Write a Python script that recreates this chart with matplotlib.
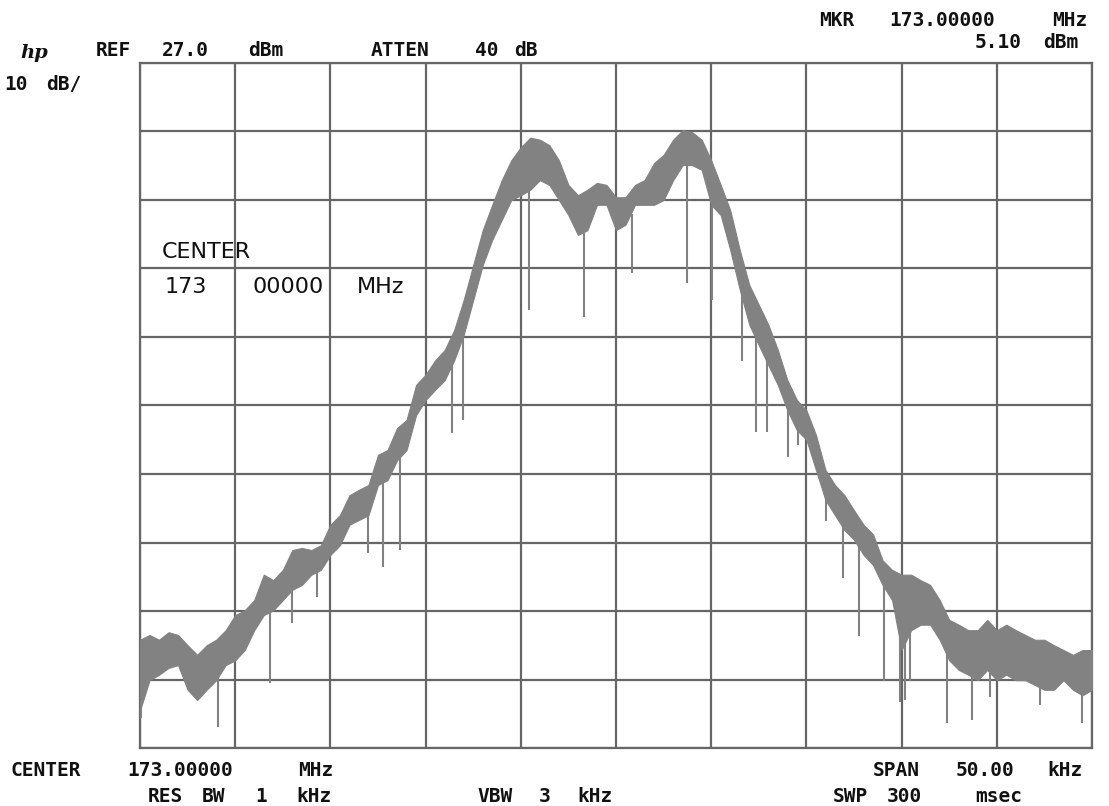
import matplotlib
matplotlib.use("Agg")
import matplotlib.pyplot as plt
import numpy as np

# ---- data ----
ref_level = 27.0      # dBm, top graticule line
db_per_div = 10.0
span_khz = 50.0

freq_khz = [-25.0, -24.5, -24.0, -23.5, -23.0, -22.5, -22.0, -21.5, -21.0, -20.5,
            -20.0, -19.5, -19.0, -18.5, -18.0, -17.5, -17.0, -16.5, -16.0, -15.5,
            -15.0, -14.5, -14.0, -13.5, -13.0, -12.5, -12.0, -11.5, -11.0, -10.5,
            -10.0, -9.5, -9.0, -8.5, -8.0, -7.5, -7.0, -6.5, -6.0, -5.5,
            -5.0, -4.5, -4.0, -3.5, -3.0, -2.5, -2.0, -1.5, -1.0, -0.5,
            0.0, 0.5, 1.0, 1.5, 2.0, 2.5, 3.0, 3.5, 4.0, 4.5,
            5.0, 5.5, 6.0, 6.5, 7.0, 7.5, 8.0, 8.5, 9.0, 9.5,
            10.0, 10.5, 11.0, 11.5, 12.0, 12.5, 13.0, 13.5, 14.0, 14.5,
            15.0, 15.5, 16.0, 16.5, 17.0, 17.5, 18.0, 18.5, 19.0, 19.5,
            20.0, 20.5, 21.0, 21.5, 22.0, 22.5, 23.0, 23.5, 24.0, 24.5, 25.0]

trace_hi = [-57.2, -56.5, -57.2, -56.1, -56.5, -58.0, -59.4, -58.0, -57.2, -55.8,
            -53.6, -52.9, -51.4, -47.7, -48.5, -47.0, -44.1, -43.8, -44.1, -43.4,
            -40.4, -39.0, -36.1, -35.3, -34.6, -30.2, -29.5, -26.3, -25.1, -20.0,
            -18.5, -16.4, -14.9, -12.0, -7.6, -2.5, 2.6, 6.3, 9.9, 12.8,
            14.7, 16.1, 15.8, 15.0, 12.8, 9.2, 7.7, 8.5, 9.5, 9.2,
            7.4, 7.4, 9.2, 9.9, 12.4, 13.6, 15.8, 17.2, 16.9, 15.8,
            12.8, 9.2, 5.5, -0.3, -5.4, -8.3, -11.2, -14.9, -19.3, -22.2,
            -23.7, -27.3, -32.4, -34.6, -36.1, -38.3, -40.4, -41.8, -45.6, -47.0,
            -47.7, -47.7, -48.5, -49.2, -51.4, -54.3, -55.0, -55.8, -55.8, -54.3,
            -55.8, -55.0, -55.8, -56.5, -57.2, -57.2, -58.0, -58.7, -59.4, -58.7, -58.7]

trace_lo = [-67.5, -63.1, -62.3, -61.3, -60.9, -64.5, -66.0, -64.5, -63.1, -60.9,
            -60.2, -58.7, -55.8, -53.6, -52.9, -51.4, -49.9, -49.2, -47.7, -47.0,
            -44.8, -43.4, -40.4, -39.7, -39.0, -34.6, -33.9, -31.0, -29.5, -24.4,
            -22.2, -20.7, -19.3, -16.4, -12.7, -7.6, -2.5, 1.2, 4.1, 7.0,
            7.7, 8.5, 9.9, 9.2, 7.0, 4.8, 1.9, 2.6, 6.3, 6.3,
            2.6, 3.4, 6.3, 6.3, 6.3, 7.0, 9.9, 12.1, 12.1, 11.4,
            6.3, 4.8, -0.3, -6.1, -11.2, -14.2, -17.1, -20.0, -23.7, -26.6,
            -28.0, -32.4, -36.8, -39.0, -41.2, -42.6, -44.8, -46.3, -49.2, -51.4,
            -58.7, -55.8, -55.0, -55.0, -57.2, -60.2, -61.6, -62.3, -63.1, -61.6,
            -63.1, -62.3, -63.1, -63.1, -63.8, -64.5, -64.5, -63.1, -64.5, -65.3, -64.5]

spike_khz = [-24.95, -20.9, -18.17, -17.02, -15.7, -13.03, -12.24, -11.34, -8.61, -8.04,
             -4.57, -1.68, 0.84, 3.73, 5.04, 6.62, 7.35, 7.93, 9.03, 9.56,
             11.03, 11.92, 12.76, 14.08, 14.92, 15.18, 15.44, 17.38, 18.7, 19.64,
             22.27, 24.47]
spike_top = [-60, -62, -52, -47, -46, -37, -32, -29, -15, -11,
             10, 3, 5, 13, 8, -3, -12, -14, -21, -24,
             -34, -38, -42, -47, -50, -50, -50, -58, -60, -58,
             -60, -62]
spike_bottom = [-68.6, -69.9, -63.5, -54.8, -51.0, -44.5, -46.6, -44.1, -27.0, -25.1,
                -9.1, -10.1, -3.7, -5.1, -7.6, -16.5, -26.9, -26.9, -30.5, -28.8,
                -39.9, -48.2, -56.7, -63.2, -66.3, -66.0, -63.2, -69.4, -68.9, -65.6,
                -66.7, -69.4]

# ---- figure ----
W, H = 1109, 806
fig = plt.figure(figsize=(W / 100, H / 100), dpi=100)
fig.patch.set_facecolor("white")

x0, x1, y0, y1 = 140, 1092, 63, 748   # graticule in pixels
ax = fig.add_axes([x0 / W, 1 - y1 / H, (x1 - x0) / W, (y1 - y0) / H])
ax.set_xlim(-span_khz / 2, span_khz / 2)
ax.set_ylim(ref_level - 10 * db_per_div, ref_level)
ax.set_xticks(np.arange(-25, 25.1, 5))
ax.set_yticks(np.arange(ref_level - 10 * db_per_div, ref_level + 0.1, db_per_div))
ax.tick_params(length=0, labelbottom=False, labelleft=False)
grid_c = "#666666"
ax.grid(True, color=grid_c, lw=1.6)
for s in ax.spines.values():
    s.set_color(grid_c)
    s.set_linewidth(1.6)
ax.set_axisbelow(True)

trace_c = "#828282"
ax.fill_between(freq_khz, trace_lo, trace_hi, color=trace_c, edgecolor=trace_c, lw=0.8, zorder=3)
ax.vlines(spike_khz, spike_bottom, spike_top, color=trace_c, lw=1.5, zorder=4)

# ---- annotation text ----
mono = "DejaVu Sans Mono"
txt_c = "#111111"


def t(x, y, s, size=14, **kw):
    kw.setdefault("family", mono)
    kw.setdefault("weight", "bold")
    fig.text(x / W, 1 - y / H, s, fontsize=size, color=txt_c, ha="left", va="center", **kw)


t(20, 53, "hp", size=14, style="italic", family="DejaVu Serif")
for x, s in [(96, "REF"), (162, "27.0"), (248, "dBm"), (371, "ATTEN"), (475, "40"), (514, "dB")]:
    t(x, 51, s)
for x, s in [(4, "10"), (46, "dB/")]:
    t(x, 84, s)
for x, s in [(819, "MKR"), (889, "173.00000"), (1052, "MHz")]:
    t(x, 21, s)
for x, s in [(975, "5.10"), (1043, "dBm")]:
    t(x, 42, s)
for x, s in [(11, "CENTER"), (127, "173.00000"), (298, "MHz"), (873, "SPAN"), (956, "50.00"), (1047, "kHz")]:
    t(x, 771, s)
for x, s in [(148, "RES"), (202, "BW"), (255, "1"), (296, "kHz"), (477, "VBW"), (539, "3"), (577, "kHz"),
             (833, "SWP"), (887, "300"), (975, "msec")]:
    t(x, 796, s)
for x, y, s in [(162, 252, "CENTER"), (165, 287, "173"), (252, 287, "00000"), (357, 287, "MHz")]:
    t(x, y, s, size=16, family="DejaVu Sans", weight="normal")

fig.savefig("out.png", dpi=100)
